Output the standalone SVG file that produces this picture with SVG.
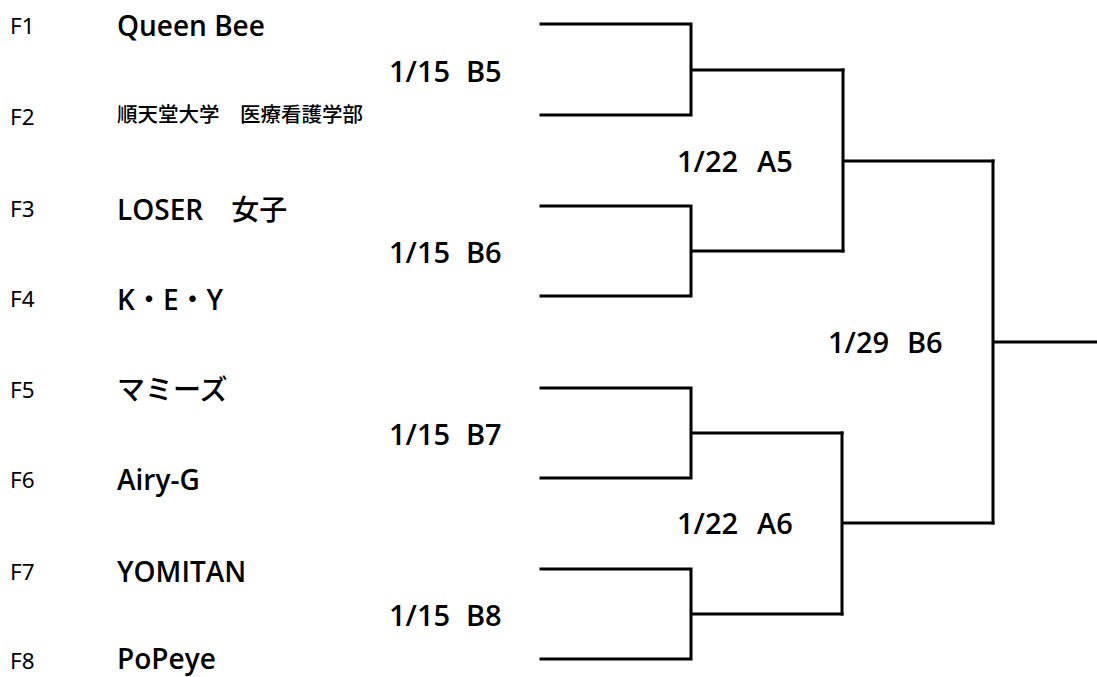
<svg xmlns="http://www.w3.org/2000/svg" width="1097" height="677" viewBox="0 0 1097 677">
<style>
text{font-family:"Open Sans","Noto Sans CJK JP",sans-serif;fill:#000}
.f{font-size:22.5px;font-family:"Noto Sans",sans-serif}
.n{font-size:28px;font-weight:600}
.j{font-size:20.5px;font-weight:500;font-family:"Noto Sans CJK JP",sans-serif}
.k{font-family:"Noto Sans CJK JP",sans-serif;font-weight:500}
.d{font-size:29px;font-weight:600}
.c{fill:none;stroke:#000;stroke-width:3;stroke-linecap:square;stroke-linejoin:miter}
</style>
<rect width="1097" height="677" fill="#fff"/>
<g id="team-F1"><text class="f" x="10" y="34">F1</text><text class="n" x="117" y="36">Queen Bee</text></g>
<g id="team-F2"><text class="f" x="10" y="125">F2</text><text class="j" x="117" y="122">順天堂大学　医療看護学部</text></g>
<g id="team-F3"><text class="f" x="10" y="217">F3</text><text class="n" x="117" y="220">LOSER<tspan class="k">　女子</tspan></text></g>
<g id="team-F4"><text class="f" x="10" y="307">F4</text><text class="n" x="117" y="310">K<tspan class="k">・</tspan>E<tspan class="k">・</tspan>Y</text></g>
<g id="team-F5"><text class="f" x="10" y="398">F5</text><text class="n k" x="117" y="400">マミーズ</text></g>
<g id="team-F6"><text class="f" x="10" y="488">F6</text><text class="n" x="117" y="490">Airy-G</text></g>
<g id="team-F7"><text class="f" x="10" y="580">F7</text><text class="n" x="117" y="582">YOMITAN</text></g>
<g id="team-F8"><text class="f" x="10" y="669">F8</text><text class="n" x="117" y="669">PoPeye</text></g>
<g id="match-B5"><text class="d" x="389" y="82">1/15<tspan x="466">B5</tspan></text></g>
<g id="match-B6"><text class="d" x="389" y="263">1/15<tspan x="466">B6</tspan></text></g>
<g id="match-B7"><text class="d" x="389" y="445">1/15<tspan x="466">B7</tspan></text></g>
<g id="match-B8"><text class="d" x="389" y="626">1/15<tspan x="466">B8</tspan></text></g>
<g id="match-A5"><text class="d" x="677" y="172">1/22<tspan x="757">A5</tspan></text></g>
<g id="match-A6"><text class="d" x="677" y="534">1/22<tspan x="757">A6</tspan></text></g>
<g id="match-final"><text class="d" x="828" y="353">1/29<tspan x="907">B6</tspan></text></g>
<g id="connectors">
<path class="c" d="M541 24H691V115H541M691 70H843"/>
<path class="c" d="M541 206H691V296H541M691 251H843"/>
<path class="c" d="M541 388H691V478H541M691 433H842"/>
<path class="c" d="M541 569H691V659H541M691 614H842"/>
<path class="c" d="M843 70V251M843 161H993"/>
<path class="c" d="M842 433V614M842 523H993"/>
<path class="c" d="M993 161V523M993 342H1097"/>
</g>
</svg>
